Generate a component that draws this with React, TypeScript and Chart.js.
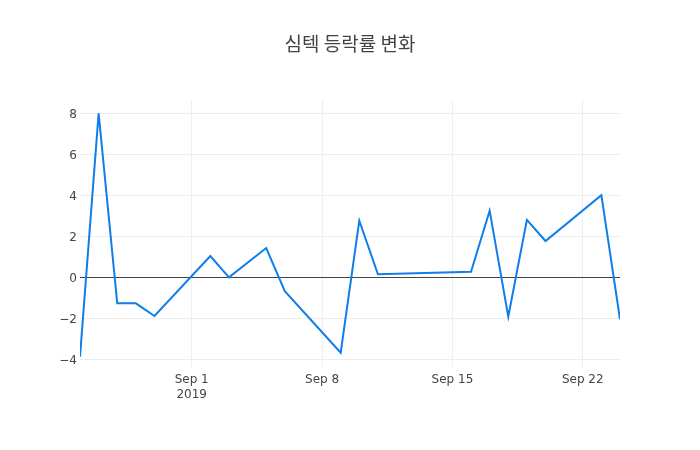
import { useEffect, useRef } from 'react'
import Chart from 'chart.js/auto'

const TITLE = '심텍 등락률 변화'
const dates = [
  '2019-08-26', '2019-08-27', '2019-08-28', '2019-08-29', '2019-08-30',
  '2019-09-02', '2019-09-03', '2019-09-05', '2019-09-06', '2019-09-09',
  '2019-09-10', '2019-09-11', '2019-09-16', '2019-09-17', '2019-09-18',
  '2019-09-19', '2019-09-20', '2019-09-23', '2019-09-24',
]
const changes = [
  -3.87, 8.0, -1.27, -1.27, -1.89,
  1.04, 0.0, 1.43, -0.68, -3.68,
  2.76, 0.15, 0.27, 3.25, -1.92,
  2.8, 1.77, 4.01, -2.05,
]
const xTickDates = ['2019-09-01', '2019-09-08', '2019-09-15', '2019-09-22']
const xTickLabels: (string | string[])[] = [['Sep 1', '2019'], 'Sep 8', 'Sep 15', 'Sep 22']
const yTicks = [-4, -2, 0, 2, 4, 6, 8]

const START = Date.UTC(2019, 7, 26)
const dayOf = (s: string) => Math.round((Date.parse(s + 'T00:00:00Z') - START) / 864e5)

const FONT = '"DejaVu Sans", "Open Sans", sans-serif'
const INK = '#444'
const GRID = '#eee'

const titlePlugin = {
  id: 'plotTitle',
  afterDraw(c: Chart) {
    const { ctx } = c
    ctx.save()
    ctx.font = '19px "Noto Sans CJK KR", sans-serif'
    ctx.fillStyle = INK
    ctx.textAlign = 'center'
    ctx.textBaseline = 'middle'
    ctx.fillText(TITLE, 350, 44)
    ctx.restore()
  },
}

export default function App() {
  const ref = useRef<HTMLCanvasElement>(null)

  useEffect(() => {
    if (!ref.current) return
    const xTicks = xTickDates.map(dayOf)
    const chart = new Chart(ref.current, {
      type: 'line',
      data: {
        datasets: [
          {
            data: dates.map((d, i) => ({ x: dayOf(d), y: changes[i] })),
            borderColor: '#0f7eea',
            borderWidth: 2,
            pointRadius: 0,
            tension: 0,
            fill: false,
          },
        ],
      },
      options: {
        animation: false,
        responsive: false,
        layout: { padding: { left: 0, top: 100, right: 80, bottom: 0 } },
        plugins: { legend: { display: false }, title: { display: false }, tooltip: { enabled: false } },
        scales: {
          x: {
            type: 'linear',
            min: 0,
            max: dayOf('2019-09-24'),
            afterBuildTicks: (s: any) => {
              s.ticks = xTicks.map((v) => ({ value: v }))
            },
            afterFit: (s: any) => {
              s.height = 83
            },
            ticks: {
              color: INK,
              font: { family: FONT, size: 12 },
              maxRotation: 0,
              autoSkip: false,
              padding: 6,
              callback: (v: any) => {
                const i = xTicks.indexOf(Number(v))
                return i >= 0 ? xTickLabels[i] : ''
              },
            },
            grid: { color: GRID, drawTicks: false },
            border: { display: false },
          },
          y: {
            min: -4.376,
            max: 8.65,
            afterBuildTicks: (s: any) => {
              s.ticks = yTicks.map((v) => ({ value: v }))
            },
            afterFit: (s: any) => {
              s.width = 80
            },
            ticks: {
              color: INK,
              font: { family: FONT, size: 12 },
              padding: 3,
              labelOffset: 1.5,
              callback: (v: any) => (Number(v) < 0 ? '\u2212' + Math.abs(Number(v)) : String(v)),
            },
            grid: {
              color: (c: any) => (c.tick && c.tick.value === 0 ? INK : GRID),
              drawTicks: false,
            },
            border: { display: false },
          },
        },
      },
      plugins: [titlePlugin],
    })
    return () => chart.destroy()
  }, [])

  return (
    <div style={{ width: 700, height: 450, background: '#fff' }}>
      <canvas ref={ref} width={700} height={450} style={{ display: 'block' }} />
    </div>
  )
}

// reset browser default margin so the canvas sits at the page origin
if (typeof document !== 'undefined') document.body.style.margin = '0'
